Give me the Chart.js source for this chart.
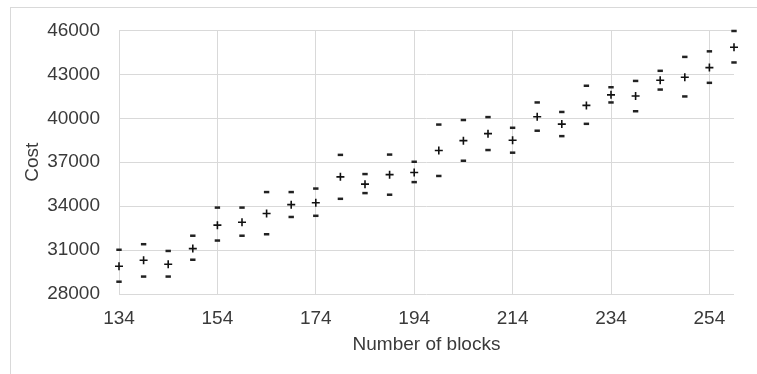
<!DOCTYPE html>
<html>
<head>
<meta charset="utf-8">
<script src="https://cdn.jsdelivr.net/npm/chart.js@4/dist/chart.umd.min.js"></script>
<style>
  html, body { margin: 0; padding: 0; background: #fff; }
  #wrap { position: relative; width: 757px; height: 374px; overflow: hidden; }
  #frame {
    position: absolute; left: 10px; top: 7px; width: 800px; height: 400px;
    border-top: 1px solid #d9d9d9; border-left: 1px solid #d9d9d9;
  }
  #chartEl { position: absolute; left: 0; top: 0; }
</style>
</head>
<body>
<div id="wrap">
  <div id="frame"></div>
  <canvas id="chartEl" width="757" height="374"></canvas>
</div>
<script>
/************ DATA ************/
const blocks = [134, 139, 144, 149, 154, 159, 164, 169, 174, 179, 184, 189, 194,
                199, 204, 209, 214, 219, 224, 229, 234, 239, 244, 249, 254, 259];

const costMean = [29900, 30300, 30030, 31100, 32700, 32900, 33500, 34100, 34230, 36000, 35500, 36150, 36300,
                  37800, 38470, 38950, 38500, 40100, 39600, 40880, 41600, 41520, 42600, 42800, 43460, 44850];

const costUpper = [31020, 31400, 30940, 31980, 33900, 33900, 34960, 34960, 35200, 37500, 36190, 37520, 37030,
                   39570, 39880, 40080, 39350, 41080, 40430, 42220, 42120, 42550, 43240, 44190, 44570, 45960];

const costLower = [28840, 29190, 29190, 30340, 31650, 31980, 32080, 33260, 33340, 34500, 34890, 34780, 35640,
                   36060, 37100, 37830, 37650, 39150, 38780, 39620, 41080, 40480, 41960, 41490, 42420, 43810];

const xTicks = [134, 154, 174, 194, 214, 234, 254];
const yTicks = [28000, 31000, 34000, 37000, 40000, 43000, 46000];

/************ HELPERS ************/
function toPoints(ys) {
    return blocks.map((x, i) => ({ x: x, y: ys[i] }));
}

const FONT = { family: "'Liberation Sans', Arial, sans-serif", size: 19 };
const TEXT = "#3a3a3a";
const GRID = "#d9d9d9";

/************ CHART ************/
new Chart(chartEl, {
    type: "scatter",
    data: {
        datasets: [
            {
                label: "Upper",
                data: toPoints(costUpper),
                pointStyle: "line",
                radius: 2.7,
                borderWidth: 2.5,
                borderColor: "#222",
                clip: false
            },
            {
                label: "Lower",
                data: toPoints(costLower),
                pointStyle: "line",
                radius: 2.7,
                borderWidth: 2.5,
                borderColor: "#222",
                clip: false
            },
            {
                label: "Mean",
                data: toPoints(costMean),
                pointStyle: "cross",
                radius: 4,
                borderWidth: 1.6,
                borderColor: "#111",
                clip: false
            }
        ]
    },
    options: {
        responsive: false,
        animation: false,
        layout: { padding: { left: 0, top: 23, right: 23, bottom: 0 } },
        plugins: { legend: { display: false }, tooltip: { enabled: false } },
        scales: {
            x: {
                type: "linear",
                min: 134,
                max: 259,
                afterBuildTicks: s => { s.ticks = xTicks.map(v => ({ value: v })); },
                afterFit: s => { s.height = 80; },
                border: { display: false },
                grid: { color: GRID, drawTicks: false },
                ticks: { color: TEXT, font: FONT, padding: 13, maxRotation: 0, callback: v => String(v) },
                title: {
                    display: true, text: "Number of blocks", color: TEXT, font: FONT,
                    padding: { top: 0, bottom: 17.6 }
                }
            },
            y: {
                min: 28000,
                max: 46000,
                afterBuildTicks: s => { s.ticks = yTicks.map(v => ({ value: v })); },
                afterFit: s => { s.width = 119; },
                border: { display: false },
                grid: { color: GRID, drawTicks: false },
                ticks: { color: TEXT, font: FONT, padding: 19, callback: v => String(v) },
                title: {
                    display: true, text: "Cost", color: TEXT, font: FONT,
                    padding: { top: 21.6, bottom: 0 }
                }
            }
        }
    }
});
</script>
</body>
</html>
